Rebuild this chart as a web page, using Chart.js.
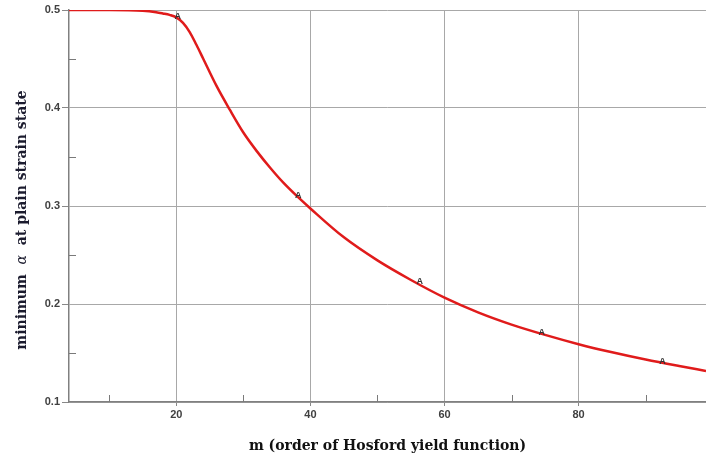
<!DOCTYPE html>
<html>
<head>
<meta charset="utf-8">
<script src="https://cdn.jsdelivr.net/npm/chart.js@4.4.0/dist/chart.umd.min.js"></script>
<style>
html,body{margin:0;padding:0;background:#fff;}
#wrap{width:706px;height:460px;position:relative;}
</style>
</head>
<body>
<div id="wrap"><canvas id="c" width="706" height="460"></canvas></div>
<script>
// Data
const mValues = [4,10,15,17,18,19,20,21,22,23,24,26,28,30,32,34,36,38,40,45,50,55,60,65,70,75,80,85,90,95,99];
const alphaValues = [0.5,0.5,0.4993,0.4978,0.4965,0.495,0.4925,0.4868,0.4775,0.4645,0.4505,0.4225,0.398,0.375,0.356,0.339,0.3235,0.310,0.2975,0.268,0.2445,0.2245,0.2065,0.1915,0.179,0.1685,0.159,0.1507,0.1433,0.1367,0.1317];
const markerM = [20.2, 38.2, 56.3, 74.5, 92.5];
const markerV = [0.492, 0.309, 0.221, 0.169, 0.140];
const markerText = ['A','A','A','A','A'];
const xMajorTicks = [20,40,60,80];
const xMinorTicks = [10,30,50,70,90];
const yMajorTicks = [0.1,0.2,0.3,0.4,0.5];
const yMinorTicks = [0.15,0.25,0.35,0.45];
const xTitle = 'm (order of Hosford yield function)';
const yTitleParts = ['minimum  ', 'α', '  at plain strain state'];

const extras = {
  id: 'extras',
  afterDatasetsDraw(chart) {
    const {ctx, scales: {x, y}, chartArea} = chart;
    ctx.save();
    // minor ticks
    ctx.strokeStyle = '#7a7a7a';
    ctx.lineWidth = 1;
    yMinorTicks.forEach(v => {
      const py = Math.round(y.getPixelForValue(v)) + 0.5;
      ctx.beginPath(); ctx.moveTo(chartArea.left, py); ctx.lineTo(chartArea.left + 7, py); ctx.stroke();
    });
    xMinorTicks.forEach(v => {
      const px = Math.round(x.getPixelForValue(v)) + 0.5;
      ctx.beginPath(); ctx.moveTo(px, chartArea.bottom); ctx.lineTo(px, chartArea.bottom - 7); ctx.stroke();
    });
    // point labels "A"
    ctx.fillStyle = '#333';
    ctx.font = 'bold 9px "Liberation Sans", Arial, sans-serif';
    ctx.textAlign = 'center';
    ctx.textBaseline = 'alphabetic';
    markerM.forEach((m, i) => {
      ctx.fillText(markerText[i], x.getPixelForValue(m), y.getPixelForValue(markerV[i]) + 1);
    });
    // y title with italic alpha
    const fonts = ['bold 14px "DejaVu Serif", serif', 'italic 14px "DejaVu Serif", serif', 'bold 14px "DejaVu Serif", serif'];
    let widths = yTitleParts.map((t, i) => { ctx.font = fonts[i]; return ctx.measureText(t).width; });
    const total = widths.reduce((a, b) => a + b, 0);
    ctx.translate(22, 220);
    ctx.rotate(-Math.PI / 2);
    ctx.fillStyle = '#1b1b2e';
    ctx.textAlign = 'left';
    ctx.textBaseline = 'middle';
    let cx = -total / 2;
    yTitleParts.forEach((t, i) => { ctx.font = fonts[i]; ctx.fillText(t, cx, 0); cx += widths[i]; });
    ctx.restore();
  }
};

new Chart(document.getElementById('c'), {
  type: 'line',
  data: {
    datasets: [{
      data: mValues.map((m, i) => ({x: m, y: alphaValues[i]})),
      borderColor: '#e01b1b',
      borderWidth: 2.5,
      pointRadius: 0,
      fill: false,
      cubicInterpolationMode: 'monotone'
    }]
  },
  options: {
    responsive: false,
    animation: false,
    devicePixelRatio: 1,
    layout: {padding: {top: 10, right: 0, left: 0, bottom: 0}},
    plugins: {legend: {display: false}, tooltip: {enabled: false}},
    scales: {
      x: {
        type: 'linear', min: 4, max: 99,
        afterBuildTicks: s => { s.ticks = xMajorTicks.map(v => ({value: v})); },
        afterFit: s => { s.height = 58; },
        grid: {color: '#a8a8a8', lineWidth: 1, drawTicks: true, tickLength: 4, tickColor: '#888'},
        border: {color: '#808080', width: 1.5},
        ticks: {color: '#404040', font: {family: '"Liberation Sans", Arial, sans-serif', size: 11, weight: 'bold'}, padding: 2, maxRotation: 0},
        title: {display: true, text: xTitle, color: '#111', font: {family: '"DejaVu Serif", serif', size: 14, weight: 'bold'}, padding: {top: 0, bottom: 5}}
      },
      y: {
        type: 'linear', min: 0.1, max: 0.5,
        afterBuildTicks: s => { s.ticks = yMajorTicks.map(v => ({value: v})); },
        afterFit: s => { s.width = 69; },
        grid: {color: '#a8a8a8', lineWidth: 1, drawTicks: true, tickLength: 7, tickColor: '#888'},
        border: {color: '#808080', width: 1.5},
        ticks: {color: '#404040', font: {family: '"Liberation Sans", Arial, sans-serif', size: 11, weight: 'bold'}, padding: 2, callback: v => v.toFixed(1)}
      }
    }
  },
  plugins: [extras]
});
</script>
</body>
</html>
